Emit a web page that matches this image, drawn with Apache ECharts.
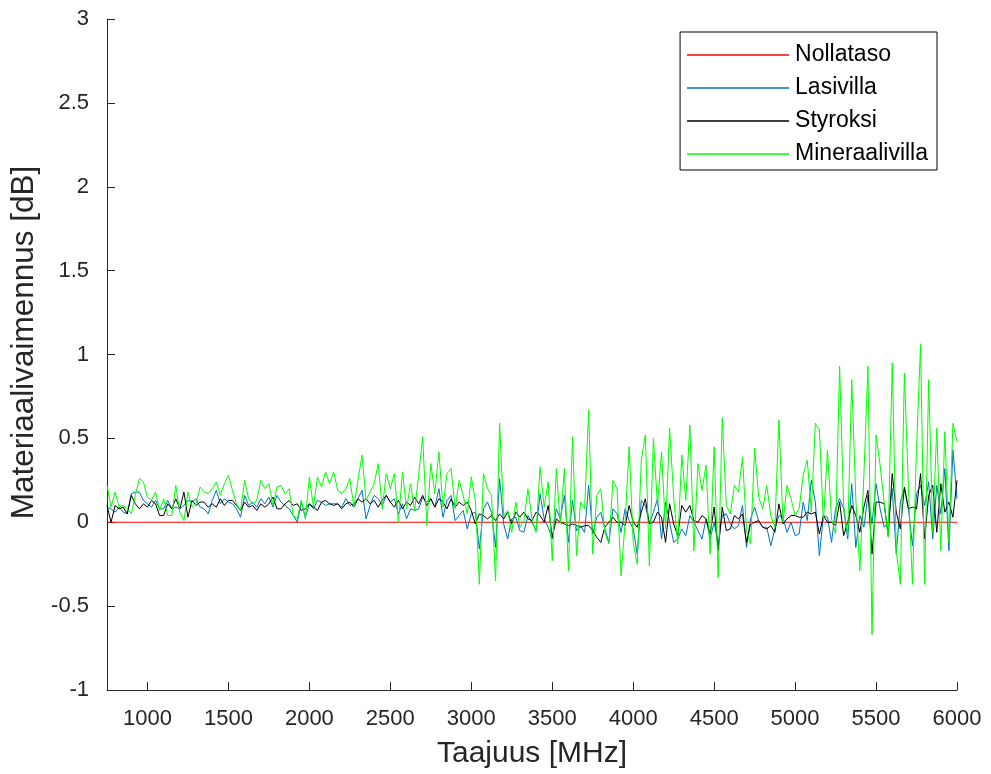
<!DOCTYPE html>
<html>
<head>
<meta charset="utf-8">
<script src="https://cdn.jsdelivr.net/npm/echarts@6/dist/echarts.min.js"></script>
<style>
html,body{margin:0;padding:0;background:#fff;}
#chart{width:991px;height:774px;}
</style>
</head>
<body>
<div id="chart"></div>
<script>
// Frequency grid (MHz): 750 ... 6000, step 25
const freqStart = 750;
const freqStep = 25;
const xTicks = [1000, 1500, 2000, 2500, 3000, 3500, 4000, 4500, 5000, 5500, 6000];
const yTicksMin = -1, yTicksMax = 3, yTickStep = 0.5;

const nollatasoFreq = [750, 6000];
const nollataso = [0, 0];

const lasivilla = [
  0.09, 0.08, 0.06, 0.09, 0.06, 0.05, 0.17, 0.18, 0.18, 0.13, 0.11, 0.09, 0.13, 0.08, 0.08, 0.13, 0.08, 0.09, 0.08, 0.10, 0.13, 0.12, 0.14, 0.09, 0.08, 0.05, 0.13, 0.19, 0.11, 0.14, 0.12,
  0.11, 0.08, 0.03, 0.16, 0.10, 0.12, 0.09, 0.14, 0.11, 0.15, 0.09, 0.16, 0.12, 0.10, 0.08, 0.04, 0.00, 0.12, 0.03, 0.11, 0.08, 0.13, 0.12, 0.10, 0.11, 0.11, 0.11, 0.09, 0.14, 0.10,
  0.11, 0.14, 0.19, 0.02, 0.10, 0.16, 0.14, 0.10, 0.16, 0.12, 0.14, 0.05, 0.11, 0.02, 0.08, 0.07, 0.08, 0.15, 0.12, 0.14, 0.09, 0.20, 0.03, 0.13, 0.16, 0.01, 0.04, 0.07, -0.04, 0.05,
  0.06, -0.16, 0.08, 0.12, 0.06, -0.15, 0.26, -0.01, -0.10, 0.02, 0.03, -0.05, -0.06, 0.04, 0.00, -0.05, 0.17, 0.02, -0.03, -0.10, 0.08, 0.02, 0.16, -0.12, 0.13, -0.05, -0.02, -0.06, 0.22, -0.07, 0.03,
  0.06, -0.04, -0.12, 0.08, 0.05, -0.06, 0.08, 0.01, -0.04, -0.19, 0.13, 0.10, -0.01, 0.06, 0.14, -0.10, 0.12, 0.00, -0.12, -0.10, -0.04, -0.08, 0.04, 0.00, -0.05, -0.10, 0.02, -0.10, 0.00, -0.13,
  0.04, 0.05, -0.01, -0.04, -0.02, 0.10, -0.15, 0.02, 0.09, 0.01, -0.03, -0.03, -0.14, -0.04, 0.04, 0.03, -0.06, 0.00, -0.08, -0.07, 0.12, 0.01, 0.25, 0.12, -0.20, 0.04, 0.03, -0.12, 0.08, 0.14,
  0.08, -0.10, 0.23, -0.15, 0.04, -0.03, 0.16, -0.01, 0.23, 0.08, -0.03, 0.00, 0.20, -0.19, 0.12, 0.20, 0.08, -0.14, 0.17, 0.22, 0.10, 0.24, -0.10, 0.22, 0.05, 0.32, -0.17, 0.43, 0.14
];

const styroksi = [
  0.10, 0.00, 0.10, 0.08, 0.09, 0.05, 0.16, 0.11, 0.08, 0.11, 0.09, 0.13, 0.11, 0.04, 0.04, 0.11, 0.08, 0.14, 0.08, 0.18, 0.03, 0.13, 0.10, 0.12, 0.12, 0.09, 0.11, 0.09, 0.14, 0.10, 0.13,
  0.13, 0.10, 0.07, 0.12, 0.09, 0.10, 0.07, 0.11, 0.09, 0.11, 0.15, 0.08, 0.08, 0.11, 0.13, 0.10, 0.11, 0.07, 0.08, 0.11, 0.09, 0.07, 0.12, 0.13, 0.11, 0.10, 0.11, 0.08, 0.11, 0.12,
  0.09, 0.14, 0.12, 0.14, 0.11, 0.13, 0.09, 0.13, 0.16, 0.12, 0.09, 0.13, 0.08, 0.12, 0.10, 0.15, 0.11, 0.16, 0.10, 0.14, 0.09, 0.14, 0.12, 0.08, 0.14, 0.09, 0.12, 0.10, 0.12, 0.07,
  -0.01, 0.05, 0.04, 0.02, 0.04, 0.01, 0.05, 0.02, 0.06, -0.01, 0.06, 0.03, 0.06, 0.02, 0.01, 0.06, 0.04, 0.00, 0.10, -0.09, 0.02, 0.00, -0.01, -0.02, -0.01, -0.02, -0.03, -0.02, -0.02, -0.05, -0.09,
  -0.12, -0.03, 0.00, 0.03, 0.00, 0.00, -0.02, 0.10, 0.00, -0.03, 0.06, 0.14, -0.01, 0.00, 0.06, 0.03, -0.12, 0.11, -0.01, -0.08, 0.10, 0.06, 0.10, 0.01, 0.00, 0.04, 0.02, -0.07, 0.09, -0.17,
  0.09, -0.05, -0.04, 0.04, 0.02, 0.05, -0.12, -0.01, 0.00, 0.01, -0.03, -0.04, -0.02, -0.06, 0.11, -0.01, 0.02, 0.04, 0.04, 0.03, 0.03, 0.06, 0.05, 0.06, -0.07, 0.04, 0.00, 0.00, -0.02, 0.12,
  -0.08, 0.00, 0.10, 0.04, -0.06, 0.09, 0.19, -0.19, 0.12, 0.12, 0.11, -0.08, 0.29, 0.06, -0.04, 0.21, 0.08, 0.09, 0.08, 0.29, -0.10, 0.16, 0.22, -0.06, 0.23, 0.06, 0.12, 0.03, 0.25
];

const mineraalivilla = [
  0.22, 0.09, 0.18, 0.09, 0.10, 0.08, 0.05, 0.16, 0.26, 0.24, 0.15, 0.13, 0.18, 0.07, 0.14, 0.04, 0.04, 0.22, 0.06, 0.01, 0.18, 0.09, 0.11, 0.21, 0.18, 0.17, 0.20, 0.24, 0.16, 0.23, 0.28,
  0.19, 0.11, 0.07, 0.25, 0.14, 0.11, 0.13, 0.25, 0.20, 0.23, 0.10, 0.21, 0.22, 0.17, 0.20, 0.04, 0.02, 0.13, 0.02, 0.27, 0.09, 0.27, 0.21, 0.30, 0.23, 0.30, 0.19, 0.17, 0.20, 0.26,
  0.09, 0.25, 0.40, 0.13, 0.18, 0.23, 0.35, 0.08, 0.29, 0.20, 0.29, 0.00, 0.30, 0.08, 0.23, 0.07, 0.28, 0.51, -0.02, 0.35, 0.17, 0.42, 0.09, 0.29, 0.32, 0.08, 0.25, 0.16, 0.05, 0.27,
  0.13, -0.37, 0.29, 0.20, 0.16, -0.35, 0.59, 0.04, 0.07, -0.06, 0.12, -0.03, 0.01, 0.20, 0.02, -0.06, 0.33, 0.09, 0.24, -0.23, 0.32, -0.01, 0.32, -0.29, 0.51, -0.20, 0.12, 0.08, 0.67, -0.19, 0.16,
  0.20, -0.06, -0.13, 0.25, 0.20, -0.32, 0.00, 0.45, -0.12, -0.25, 0.37, 0.52, -0.26, 0.50, 0.10, 0.42, -0.04, 0.56, 0.15, -0.13, 0.40, 0.13, 0.58, -0.17, 0.35, 0.19, 0.34, -0.19, 0.45, -0.33,
  0.62, 0.10, 0.05, 0.22, 0.18, 0.39, -0.05, -0.13, 0.44, 0.15, 0.08, 0.22, 0.04, -0.03, 0.61, 0.00, 0.22, 0.14, 0.04, 0.08, 0.28, 0.37, 0.06, 0.59, 0.55, 0.00, 0.43, 0.02, -0.07, 0.93,
  0.10, -0.08, 0.85, 0.14, -0.29, 0.28, 0.93, -0.67, 0.52, 0.34, 0.12, -0.09, 0.95, -0.17, -0.37, 0.89, 0.20, -0.37, 0.44, 1.06, -0.37, 0.85, -0.06, 0.56, -0.17, 0.54, -0.12, 0.59, 0.48
];

const seriesNames = ['Nollataso', 'Lasivilla', 'Styroksi', 'Mineraalivilla'];
const seriesColors = ['#ff0000', '#0072bd', '#000000', '#00ff00'];

function pairs(values) {
  return values.map((v, i) => [freqStart + i * freqStep, v]);
}
const zeroPairs = nollataso.map((v, i) => [nollatasoFreq[i], v]);

const FONT = '"Liberation Sans", Arial, Helvetica, sans-serif';
const AX = '#262626';

const chart = echarts.init(document.getElementById('chart'), null, { renderer: 'canvas' });
chart.setOption({
  animation: false,
  backgroundColor: '#ffffff',
  textStyle: { fontFamily: FONT },
  grid: { left: 107, right: 34, top: 19, bottom: 82, containLabel: false },
  legend: {
    orient: 'vertical',
    right: 54,
    top: 32,
    data: seriesNames.map((n) => ({ name: n, icon: 'rect' })),
    itemWidth: 102,
    itemHeight: 1.4,
    itemGap: 7,
    padding: [10, 9, 3, 7],
    borderColor: '#000000',
    borderWidth: 1,
    borderRadius: 0,
    backgroundColor: '#ffffff',
    textStyle: { fontFamily: FONT, fontSize: 23, color: '#000000', lineHeight: 26, padding: [0, 0, 0, 1] }
  },
  xAxis: {
    type: 'value',
    min: freqStart,
    max: 6000,
    name: 'Taajuus [MHz]',
    nameLocation: 'middle',
    nameGap: 49,
    nameTextStyle: { fontFamily: FONT, fontSize: 30, color: AX },
    axisLine: { show: true, onZero: false, lineStyle: { color: AX, width: 1 } },
    axisTick: { show: true, inside: true, length: 8, lineStyle: { color: AX }, customValues: xTicks },
    axisLabel: { fontFamily: FONT, fontSize: 22, color: AX, margin: 18, customValues: xTicks, formatter: (v) => String(v) },
    splitLine: { show: false }
  },
  yAxis: {
    type: 'value',
    min: yTicksMin,
    max: yTicksMax,
    interval: yTickStep,
    name: 'Materiaalivaimennus [dB]',
    nameLocation: 'middle',
    nameGap: 62,
    nameTextStyle: { fontFamily: FONT, fontSize: 31.5, color: AX, padding: [0, 0, 0, 24] },
    axisLine: { show: true, onZero: false, lineStyle: { color: AX, width: 1 } },
    axisTick: { show: true, inside: true, length: 8, lineStyle: { color: AX } },
    axisLabel: { fontFamily: FONT, fontSize: 22, color: AX, margin: 18, formatter: (v) => String(v) },
    splitLine: { show: false }
  },
  series: [
    { name: seriesNames[0], type: 'line', data: zeroPairs, symbol: 'none', color: seriesColors[0], lineStyle: { width: 1, color: seriesColors[0] } },
    { name: seriesNames[1], type: 'line', data: pairs(lasivilla), symbol: 'none', color: seriesColors[1], lineStyle: { width: 1, color: seriesColors[1] } },
    { name: seriesNames[2], type: 'line', data: pairs(styroksi), symbol: 'none', color: seriesColors[2], lineStyle: { width: 1, color: seriesColors[2] } },
    { name: seriesNames[3], type: 'line', data: pairs(mineraalivilla), symbol: 'none', color: seriesColors[3], lineStyle: { width: 1, color: seriesColors[3] } }
  ]
});
</script>
</body>
</html>
